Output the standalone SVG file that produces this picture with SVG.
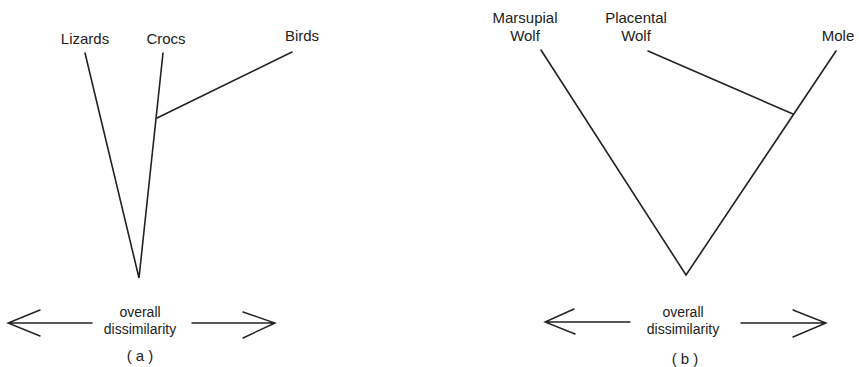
<svg xmlns="http://www.w3.org/2000/svg" width="859" height="367" viewBox="0 0 859 367">
<style>
text{font-family:"Liberation Sans",Arial,sans-serif;font-size:15px;fill:#222;text-anchor:middle}
.ax{font-size:14px}
.ln{stroke:#222;stroke-width:1.6;fill:none;stroke-linecap:round;stroke-linejoin:miter}
.ar{stroke:#222;stroke-width:1.4;fill:none;stroke-linecap:round}
</style>
<rect width="859" height="367" fill="#fff"/>
<g id="lizards"><text x="85" y="44">Lizards</text></g>
<g id="crocs"><text x="166" y="44">Crocs</text></g>
<g id="birds"><text x="302" y="41">Birds</text></g>
<g id="marsupial-wolf"><text x="525" y="23">Marsupial</text><text x="525" y="41">Wolf</text></g>
<g id="placental-wolf"><text x="636" y="23">Placental</text><text x="636" y="41">Wolf</text></g>
<g id="mole"><text x="838" y="41">Mole</text></g>
<g id="connectors">
<path class="ln" d="M85,53 L139,278 L163,53"/>
<path class="ln" d="M157,118 L292,52"/>
<path class="ln" d="M541,50 L686,275 L836,51"/>
<path class="ln" d="M648,51 L793,114"/>
</g>
<g id="axis-a">
<path class="ar" d="M92,323 H8 M40,310 L8,323 L40,336"/>
<path class="ar" d="M192,323 H275 M243,312 L275,323 L243,338"/>
<text class="ax" x="140" y="317">overall</text>
<text class="ax" x="140" y="334">dissimilarity</text>
<text x="140" y="361">( a )</text>
</g>
<g id="axis-b">
<path class="ar" d="M630,322 H545 M574,309 L545,322 L575,334"/>
<path class="ar" d="M741,323 H826 M793,310 L826,323 L793,337"/>
<text class="ax" x="683" y="317">overall</text>
<text class="ax" x="683" y="334">dissimilarity</text>
<text x="685" y="364">( b )</text>
</g>
</svg>
